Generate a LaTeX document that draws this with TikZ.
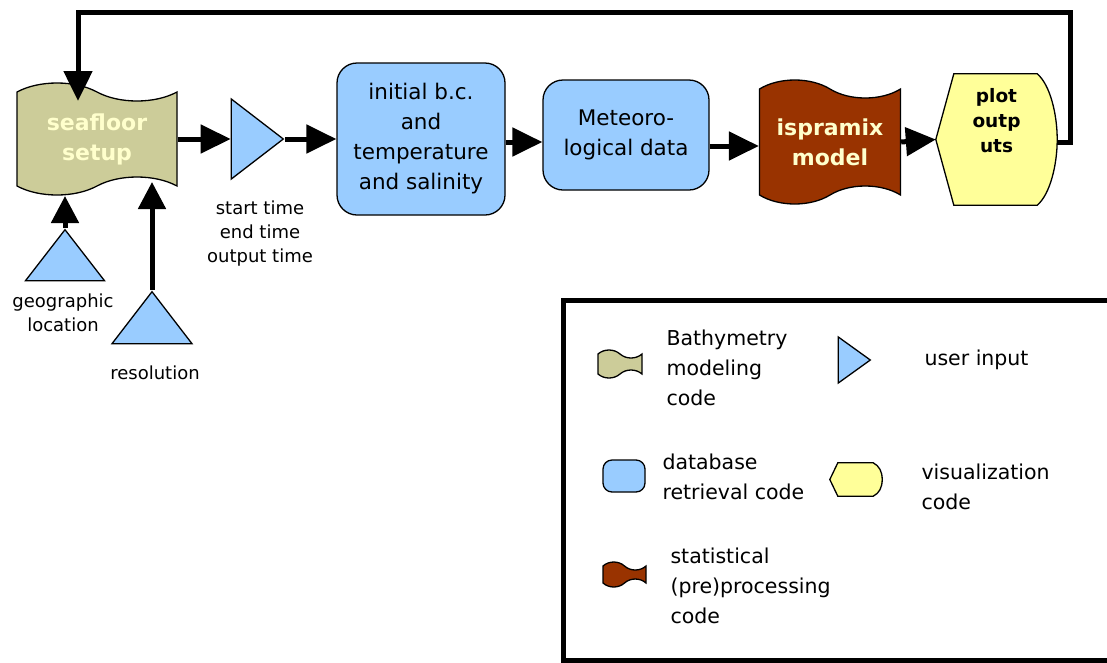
\documentclass[tikz,border=0pt]{standalone}
\usepackage{fontspec}
\setmainfont{DejaVu Sans}
\usetikzlibrary{positioning,shapes.symbols,shapes.geometric,arrows.meta,calc}

\definecolor{bathy}{RGB}{204,204,153}
\definecolor{dbblue}{RGB}{153,204,255}
\definecolor{statbrown}{RGB}{153,51,0}
\definecolor{vizyellow}{RGB}{255,255,153}
\definecolor{creamtxt}{RGB}{255,255,204}

\begin{document}
\begin{tikzpicture}[x=1pt, y=-1pt,
  every node/.style={font=\fontsize{18}{24}\selectfont, align=center},
  tapebox/.style={tape, draw, line width=1.3pt, tape bend height=18, inner sep=0pt,
    tape bend top=out and in, tape bend bottom=in and out,
    font=\fontsize{22}{30}\selectfont\bfseries, text=creamtxt},
  dbbox/.style={rectangle, draw, fill=dbblue, line width=1.3pt, rounded corners=20,
    font=\fontsize{21.5}{30}\selectfont},
  userin/.style={isosceles triangle, isosceles triangle stretches, draw, fill=dbblue,
    line width=1.3pt, inner sep=0pt},
  legtext/.style={anchor=west, align=left, font=\fontsize{20.5}{30}\selectfont},
  flow/.style={-{Triangle[length=30pt,width=28pt]}, line width=5pt},
  upflow/.style={-{Triangle[length=27pt,width=27pt]}, line width=5pt}]

\useasboundingbox (0,0) rectangle (1107,662);

% Main chain
\node[tapebox, fill=bathy, minimum width=160, minimum height=112] (seafloor) at (97,139) {seafloor\\setup};
\node[userin, minimum width=80, minimum height=52, anchor=apex] (times) at (285,139) {};
\node[dbbox, minimum width=168, minimum height=152] (init) at (421,139) {initial b.c.\\and\\temperature\\and salinity};
\node[dbbox, minimum width=166, minimum height=110] (meteo) at (626,135) {Meteoro-\\logical data};
\node[tapebox, fill=statbrown, minimum width=141, minimum height=124] (ispra) at (830,142) {ispramix\\model};

% Plot outputs (shape drawn around an empty node)
\node[minimum width=121, minimum height=131, inner sep=0pt] (plot) at (996.5,139.5) {};
\draw[fill=vizyellow, line width=1.3pt] (plot.west) -- ($(plot.north west)+(18,0)$)
  -- ($(plot.north east)+(-20,0)$) .. controls ($(plot.north east)+(-7,11)$) and ($(plot.east)+(0,-25)$) .. (plot.east)
  .. controls ($(plot.east)+(0,25)$) and ($(plot.south east)+(-7,-11)$) .. ($(plot.south east)+(-20,0)$)
  -- ($(plot.south west)+(18,0)$) -- cycle;
\node[font=\fontsize{18.5}{25}\selectfont\bfseries, anchor=north] (plottxt) at ($(plot.north)+(0,11)$) {plot\\outp\\uts};

% Inputs below
\node[userin, shape border rotate=90, minimum width=79, minimum height=51, anchor=apex] (geo) at (65,228) {};
\node[userin, shape border rotate=90, minimum width=80, minimum height=52, anchor=apex] (res) at (152,290) {};

\node (timestxt) at (260,234) {start time\\end time\\output time};
\node (geotxt) at (63,313) {geographic\\location};
\node (restxt) at (155,373) {resolution};

% Connections
\draw[flow] (seafloor.east) -- (times.lower side);
\draw[flow] (times.apex) -- (init.west);
\draw[flow] (init.east |- 0,142) -- (meteo.west |- 0,142);
\draw[flow] (meteo.east |- 0,146) -- (ispra.west |- 0,146);
\draw[flow] (ispra.east |- 0,142) -- (plot.west);
\draw[upflow] (geo.apex) -- (geo.apex |- 0,196);
\draw[upflow] (res.apex) -- (res.apex |- 0,182);

% Feedback loop
\coordinate (fbin) at (78,101);
\draw[flow] (plot.east |- 0,142.5) -| (1070,12.5) -| (fbin);

% Legend
\draw[line width=5pt] (563,300) rectangle (1120,660);
\node[tapebox, fill=bathy, minimum width=44, minimum height=28, tape bend height=8] (lbathy) at (620,364) {};
\node[legtext] (lbathytxt) at (663,368) {Bathymetry\\modeling\\code};
\node[userin, minimum width=46, minimum height=32, anchor=apex] (luser) at (872,360) {};
\node[legtext] (lusertxt) at (921,360) {user input};
\node[dbbox, rounded corners=9, minimum width=42, minimum height=32] (ldb) at (624,476) {};
\node[legtext] (ldbtxt) at (659,477) {database\\retrieval code};
\node[minimum width=52, minimum height=33, inner sep=0pt] (lviz) at (856,479.5) {};
\draw[fill=vizyellow, line width=1.3pt] (lviz.west) -- ($(lviz.north west)+(8,0)$)
  -- ($(lviz.north east)+(-9,0)$) .. controls ($(lviz.north east)+(-3,3)$) and ($(lviz.east)+(0,-8)$) .. (lviz.east)
  .. controls ($(lviz.east)+(0,8)$) and ($(lviz.south east)+(-3,-3)$) .. ($(lviz.south east)+(-9,0)$)
  -- ($(lviz.south west)+(8,0)$) -- cycle;
\node[legtext] (lviztxt) at (918,487) {visualization\\code};
\node[tapebox, fill=statbrown, minimum width=43, minimum height=25, tape bend height=8] (lstat) at (624.5,574.5) {};
\node[legtext] (lstattxt) at (667,586) {statistical\\(pre)processing\\code};
\end{tikzpicture}
\end{document}
